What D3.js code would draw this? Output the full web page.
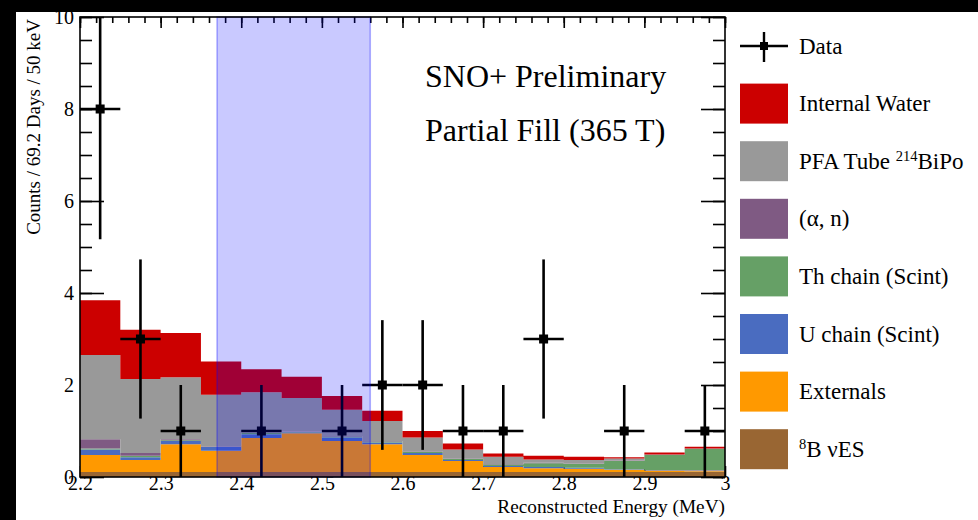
<!DOCTYPE html>
<head>
  <meta charset="utf-8">
  <title>SNO+ Partial Fill spectrum</title>
  <script src="https://cdn.jsdelivr.net/npm/d3@7"></script>
  <style>
  body { margin: 0; background: #000; }
  svg { display: block; }
  text { font-family: "Liberation Serif", "Times New Roman", serif; fill: #000; }
  </style>
</head>
<body>
<script>
// Bins (low edge, MeV), 50 keV wide
var binLow = [2.2, 2.25, 2.3, 2.35, 2.4, 2.45, 2.5, 2.55, 2.6, 2.65, 2.7, 2.75, 2.8, 2.85, 2.9, 2.95];
var binWidth = 0.05;

// Stacked backgrounds, bottom to top
var b8Solar   = [0.11, 0.11, 0.11, 0.11, 0.11, 0.11, 0.11, 0.11, 0.11, 0.11, 0.11, 0.11, 0.11, 0.11, 0.11, 0.12];
var externals = [0.37, 0.26, 0.60, 0.46, 0.74, 0.84, 0.67, 0.60, 0.37, 0.24, 0.11, 0.08, 0.07, 0.05, 0.03, 0.02];
var uChain    = [0.12, 0.06, 0.07, 0.08, 0.08, 0.02, 0.08, 0.04, 0.04, 0.02, 0.02, 0.03, 0.02, 0.01, 0.01, 0.01];
var thChain   = [0.02, 0.03, 0.02, 0.01, 0.03, 0.01, 0.02, 0.02, 0.03, 0.02, 0.03, 0.08, 0.08, 0.18, 0.33, 0.46];
var alphaN    = [0.20, 0.06, 0.02, 0.01, 0.01, 0.01, 0.01, 0.01, 0.01, 0.01, 0.01, 0.01, 0.01, 0.01, 0.005, 0.005];
var pfaTube   = [1.83, 1.61, 1.35, 1.12, 0.87, 0.73, 0.57, 0.44, 0.30, 0.20, 0.16, 0.07, 0.08, 0.04, 0.005, 0.005];
var intWater  = [1.19, 1.07, 0.96, 0.72, 0.50, 0.46, 0.30, 0.22, 0.14, 0.13, 0.07, 0.08, 0.07, 0.03, 0.04, 0.04];

// Data counts (null = empty bin) and errors
var dataCounts = [8, 3, 1, null, 1, null, 1, 2, 2, 1, 1, 3, null, 1, null, 1];
var dataErrors = [2.83, 1.73, 1, null, 1, null, 1, 1.41, 1.41, 1, 1, 1.73, null, 1, null, 1];

var roi = [2.37, 2.56];

var xTicks = [2.2, 2.3, 2.4, 2.5, 2.6, 2.7, 2.8, 2.9, 3];
var yTicks = [0, 2, 4, 6, 8, 10];

var series = [
  {key: "b8",  name: "8B",                 color: "#996633", vals: b8Solar},
  {key: "ext", name: "Externals",          color: "#ff9900", vals: externals},
  {key: "u",   name: "U chain (Scint)",    color: "#4a6cc0", vals: uChain},
  {key: "th",  name: "Th chain (Scint)",   color: "#66a066", vals: thChain},
  {key: "an",  name: "(\u03b1, n)",         color: "#7f5a83", vals: alphaN},
  {key: "pfa", name: "PFA Tube",           color: "#999999", vals: pfaTube},
  {key: "iw",  name: "Internal Water",     color: "#cc0000", vals: intWater}
];

var W = 978, H = 520;
var pL = 80, pR = 725, pT = 17, pB = 477;

var svg = d3.select("body").append("svg").attr("width", W).attr("height", H);
svg.append("rect").attr("x", 16).attr("y", 12).attr("width", W - 16).attr("height", H - 12).attr("fill", "#fff");

var x = d3.scaleLinear().domain([2.2, 3.0]).range([pL, pR]);
var y = d3.scaleLinear().domain([0, 10]).range([pB, pT]);

svg.append("clipPath").attr("id", "plot")
  .append("rect").attr("x", pL).attr("y", pT).attr("width", pR - pL).attr("height", pB - pT);

// ticks (drawn first, histograms cover them like in ROOT)
var ax = svg.append("g").attr("class", "axes");
function tickStyle(g) {
  g.select(".domain").remove();
  g.selectAll("line").attr("stroke", "#000").attr("stroke-width", 1.6);
  g.selectAll("text").attr("font-size", 20).attr("fill", "#000").attr("font-family", "Liberation Serif, serif");
}
var minorY = d3.range(0, 10.01, 0.5);
ax.append("g").attr("transform", "translate(" + pL + ",0)")
  .call(d3.axisLeft(y).tickValues(minorY).tickSize(-12).tickFormat(""))
  .call(tickStyle);
ax.append("g").attr("transform", "translate(" + pL + ",0)")
  .call(d3.axisLeft(y).tickValues(yTicks).tickSize(-24).tickPadding(6).tickFormat(d3.format("d")))
  .call(tickStyle);
ax.append("g").attr("transform", "translate(" + pR + ",0)")
  .call(d3.axisRight(y).tickValues(minorY).tickSize(-12).tickFormat(""))
  .call(tickStyle);
ax.append("g").attr("transform", "translate(" + pR + ",0)")
  .call(d3.axisRight(y).tickValues(yTicks).tickSize(-24).tickFormat(""))
  .call(tickStyle);
ax.append("g").attr("transform", "translate(0," + pT + ")")
  .call(d3.axisTop(x).tickValues(d3.range(2.2, 3.001, 0.02)).tickSize(-6).tickFormat(""))
  .call(tickStyle);
ax.append("g").attr("transform", "translate(0," + pT + ")")
  .call(d3.axisTop(x).tickValues(xTicks).tickSize(-11).tickFormat(""))
  .call(tickStyle);
ax.append("g").attr("transform", "translate(0," + pB + ")")
  .call(d3.axisBottom(x).tickValues(xTicks).tickSize(-11).tickPadding(-1).tickFormat(function(d) { return d; }))
  .call(tickStyle);

// stacked histogram
var table = binLow.map(function(e, i) {
  var row = {e: e};
  series.forEach(function(s) { row[s.key] = s.vals[i]; });
  return row;
});
table.push(Object.assign({}, table[table.length - 1], {e: 3.0}));

var stack = d3.stack().keys(series.map(function(s) { return s.key; }));
var layers = stack(table);

var area = d3.area()
  .curve(d3.curveStepAfter)
  .x(function(d) { return x(d.data.e); })
  .y0(function(d) { return y(d[0]); })
  .y1(function(d) { return y(d[1]); });

svg.append("g").selectAll("path")
  .data(layers)
  .enter().append("path")
    .attr("d", area)
    .attr("fill", function(d, i) { return series[i].color; });

// data points
var pts = binLow.map(function(e, i) { return {c: e + binWidth / 2, n: dataCounts[i], err: dataErrors[i]}; })
  .filter(function(d) { return d.n !== null; });

var dataG = svg.append("g").attr("clip-path", "url(#plot)");
dataG.selectAll(".ebar").data(pts).enter().append("line")
  .attr("x1", function(d) { return x(d.c); }).attr("x2", function(d) { return x(d.c); })
  .attr("y1", function(d) { return y(Math.max(0, d.n - d.err)); })
  .attr("y2", function(d) { return y(d.n + d.err); })
  .attr("stroke", "#000").attr("stroke-width", 2.6);
dataG.selectAll(".xbar").data(pts).enter().append("line")
  .attr("x1", function(d) { return x(d.c - binWidth / 2); }).attr("x2", function(d) { return x(d.c + binWidth / 2); })
  .attr("y1", function(d) { return y(d.n); }).attr("y2", function(d) { return y(d.n); })
  .attr("stroke", "#000").attr("stroke-width", 2.6);
dataG.selectAll("rect").data(pts).enter().append("rect")
  .attr("x", function(d) { return x(d.c) - 4.5; }).attr("y", function(d) { return y(d.n) - 4.5; })
  .attr("width", 9).attr("height", 9).attr("fill", "#000");

// region of interest
svg.append("rect")
  .attr("x", x(roi[0])).attr("y", pT)
  .attr("width", x(roi[1]) - x(roi[0])).attr("height", pB - pT)
  .attr("fill", "#0000ff").attr("fill-opacity", 0.21)
  .attr("stroke", "#0000ff").attr("stroke-opacity", 0.3).attr("stroke-width", 1.6);

// frame
svg.append("rect").attr("x", pL).attr("y", pT).attr("width", pR - pL).attr("height", pB - pT)
  .attr("fill", "none").attr("stroke", "#000").attr("stroke-width", 1.6);

// axis titles
svg.append("text").attr("x", pR).attr("y", 513).attr("text-anchor", "end")
  .attr("font-size", 19.3).text("Reconstructed Energy (MeV)");
svg.append("text").attr("transform", "translate(40,19) rotate(-90)").attr("text-anchor", "end")
  .attr("font-size", 19).text("Counts / 69.2 Days / 50 keV");

// labels
svg.append("text").attr("x", 425).attr("y", 87).attr("font-size", 32).text("SNO+ Preliminary");
svg.append("text").attr("x", 425).attr("y", 141).attr("font-size", 32).text("Partial Fill (365 T)");

// legend
var lg = svg.append("g").attr("transform", "translate(740,0)");
var rowH = 57.6, row0 = 46;
var dl = lg.append("g").attr("transform", "translate(0," + row0 + ")");
dl.append("line").attr("x1", 0).attr("x2", 48).attr("stroke", "#000").attr("stroke-width", 2.4);
dl.append("line").attr("x1", 24).attr("x2", 24).attr("y1", -14).attr("y2", 16).attr("stroke", "#000").attr("stroke-width", 2.4);
dl.append("rect").attr("x", 20).attr("y", -4).attr("width", 8).attr("height", 8).attr("fill", "#000");
dl.append("text").attr("x", 59).attr("y", 7.5).attr("font-size", 23).text("Data");

series.slice().reverse().forEach(function(s, i) {
  var g = lg.append("g").attr("transform", "translate(0," + (row0 + rowH * (i + 1)) + ")");
  g.append("rect").attr("x", 0).attr("y", -20).attr("width", 48).attr("height", 40).attr("fill", s.color);
  var t = g.append("text").attr("x", 59).attr("y", 7.5).attr("font-size", 23);
  if (s.key === "pfa") {
    t.append("tspan").text("PFA Tube ");
    t.append("tspan").attr("font-size", 14.5).attr("dy", -8).text("214");
    t.append("tspan").attr("dy", 8).text("BiPo");
  } else if (s.key === "b8") {
    t.append("tspan").attr("font-size", 14.5).attr("dy", -8).text("8");
    t.append("tspan").attr("dy", 8).text("B \u03bdES");
  } else {
    t.text(s.name);
  }
});
</script>
</body>
</html>
